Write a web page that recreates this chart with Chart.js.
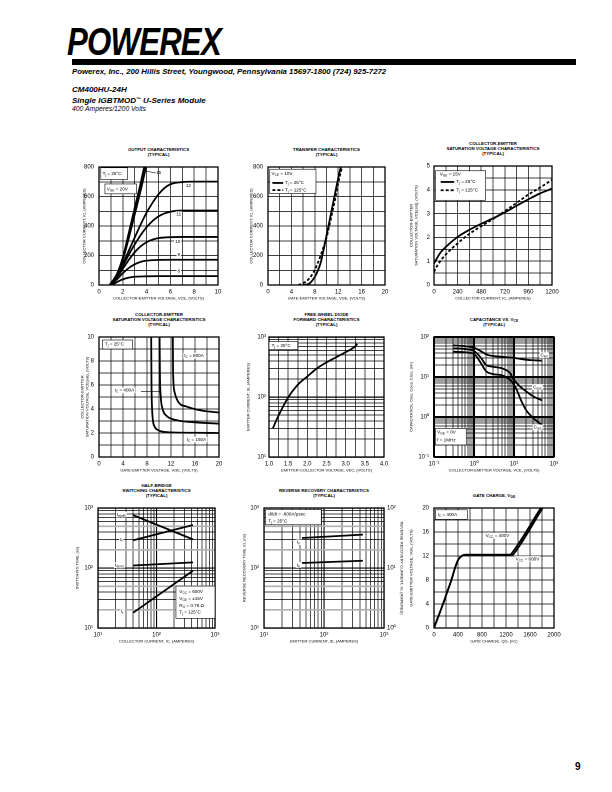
<!DOCTYPE html>
<html><head><meta charset="utf-8">
<script src="https://cdn.jsdelivr.net/npm/chart.js@4.4.1/dist/chart.umd.min.js"></script>
<style>
html,body{margin:0;padding:0;background:#fff}
body{width:612px;height:792px;position:relative;overflow:hidden;font-family:"Liberation Sans",Arial,Helvetica,sans-serif;color:#000}
#logo{position:absolute;left:67px;top:22px;font-weight:900;font-style:italic;font-size:39px;line-height:39px;transform:scaleX(0.8);transform-origin:0 0;letter-spacing:-1px;white-space:nowrap}
#bar{position:absolute;left:72px;top:59px;width:504px;height:6px;background:#000}
.hd{position:absolute;left:72px;white-space:nowrap;font-style:italic}
.ct{position:absolute;text-align:center;font-weight:bold;font-size:4.4px;line-height:5.2px;white-space:nowrap}
.ct sub{font-size:3.4px;vertical-align:-1px;line-height:0}
canvas{position:absolute}
#pg{position:absolute;left:575px;top:762px;font-weight:bold;font-size:10px;line-height:10px}
</style></head><body>
<div id="logo">POWEREX</div>
<div id="bar"></div>
<div class="hd" style="top:67.8px;font-weight:bold;font-size:7.8px;line-height:7.8px">Powerex, Inc., 200 Hillis Street, Youngwood, Pennsylvania 15697-1800 (724) 925-7272</div>
<div class="hd" style="top:86.2px;font-weight:bold;font-size:8px;line-height:8px">CM400HU-24H</div>
<div class="hd" style="top:96.2px;font-weight:bold;font-size:8px;line-height:8px">Single IGBTMOD<span style="font-size:4.8px;vertical-align:2px">™</span> U-Series Module</div>
<div class="hd" style="top:105.8px;font-size:6.8px;line-height:6.8px">400 Amperes/1200 Volts</div>
<div id="pg">9</div>
<script>
// ================= DATA =================
// 1. Output characteristics: [VCE (V), IC (A)] for each VGE
const vge8  = [[0.9,0],[1.2,6],[1.5,20],[2,38],[2.5,50],[3,56],[4,59],[5,60],[10,60]];
const vge9  = [[0.9,0],[1.5,38],[2,80],[2.5,115],[3,140],[3.5,157],[4,165],[5,170],[6,171],[10,171]];
const vge10 = [[0.9,0],[1.5,48],[2,110],[2.5,170],[3,222],[3.5,262],[4,290],[4.5,308],[5,318],[6,324],[7,326],[10,326]];
const vge11 = [[0.9,0],[1.5,55],[2,130],[2.5,205],[3,275],[3.5,338],[4,392],[4.5,434],[5,465],[5.5,485],[6,497],[7,505],[10,505]];
const vge12 = [[0.9,0],[1.5,60],[2,142],[2.5,232],[3,322],[3.5,410],[4,490],[4.5,558],[5,615],[5.5,657],[6,683],[7,698],[8,701],[10,701]];
const vge15 = [[0.9,0],[1.5,68],[2,170],[2.5,318],[3,478],[3.5,640],[3.95,800]];
const vge20 = [[0.9,0],[1.5,74],[2,186],[2.5,352],[3,522],[3.5,690],[3.8,800]];
// 2. Transfer characteristics: [VGE (V), IC (A)]
const tr25  = [[6,0],[7,8],[8,55],[8.5,95],[9,150],[9.5,238],[10,335],[10.5,432],[11,530],[11.5,628],[12,725],[12.45,800]];
const tr125 = [[5.2,0],[6,12],[7,42],[8,102],[9,200],[9.5,258],[10,320],[10.5,405],[11,495],[11.5,588],[12,690],[12.65,800]];
// 3. VCE(sat) vs IC: [IC (A), VCE(sat) (V)]
const sat25  = [[0,0.9],[20,1.05],[60,1.33],[120,1.6],[240,2.02],[360,2.32],[480,2.57],[600,2.8],[720,3.05],[840,3.33],[960,3.6],[1080,3.85],[1200,4.05]];
const sat125 = [[0,0.55],[20,0.72],[60,0.98],[120,1.28],[240,1.75],[360,2.15],[480,2.47],[600,2.77],[720,3.1],[840,3.45],[960,3.8],[1080,4.1],[1200,4.42]];
// 4. VCE(sat) vs VGE: [VGE (V), VCE(sat) (V)]
const ic160 = [[8.7,10],[8.75,6],[8.85,4],[9.0,3.0],[9.3,2.5],[9.8,2.25],[10.5,2.12],[12,2.05],[16,2.02],[20,2.0]];
const ic400 = [[10.1,10],[10.15,7],[10.3,5],[10.6,4.0],[11.2,3.45],[12,3.2],[13.4,3.02],[15.7,2.9],[20,2.78]];
const ic800 = [[12.3,10],[12.35,7],[12.6,5.4],[13.2,4.6],[14.6,4.2],[16.8,3.9],[20,3.7]];
// 5. Free-wheel diode: [VEC (V), IE (A)]
const diodeFwd = [[1.1,30],[1.2,42],[1.3,57],[1.5,98],[1.75,160],[2.0,220],[2.25,300],[2.5,378],[2.75,460],[3.0,560],[3.25,700],[3.3,770]];
// 6. Capacitance: [VCE (V), C (nF)]
const cies = [[0.3,62],[0.5,60],[0.8,57],[1,54],[1.5,44],[2,37],[3,33.5],[5,32],[10,30],[20,27],[50,25.5]];
const coes = [[0.3,52],[0.5,51],[0.8,48],[1,45],[1.5,30],[2,20],[3,18],[5,16.5],[8,12.5],[10,8.5],[15,5.5],[20,4.4],[30,3.3],[50,2.6]];
const cres = [[0.3,43],[0.5,42],[0.8,40],[1,38],[1.5,22],[2,14],[3,11.8],[5,11],[8,8.5],[10,6.4],[12,4.5],[15,2.6],[20,1.5],[30,0.95],[50,0.63]];
// 7. Switching times: [IC (A), t (ns)]
const tdoff = [[40,760],[420,300]];
const tfall = [[40,290],[420,520]];
const tdon  = [[40,110],[420,124]];
const trise = [[40,18],[420,90]];
// 8. Reverse recovery: [IE (A), trr (ns)] and [IE (A), Irr (A)]
const trrNs = [[43,121],[445,132]];
const irrA  = [[43,31.6],[445,36]];
// 9. Gate charge: [QG (nC), VGE (V)]
const qg400 = [[0,0],[75,2],[150,4],[220,6],[290,8],[350,10],[400,11.3],[450,11.9],[520,12.2],[1270,12.2],[1300,12.5],[1780,20]];
const qg600 = [[0,0],[75,2],[150,4],[220,6],[290,8],[350,10],[400,11.3],[450,11.9],[520,12.2],[1310,12.2],[1340,12.5],[1810,20]];

// tick definitions
const MANTISSAS = [1,2,3,4,5,6,7,8,9];

// ================= HELPERS =================
Chart.defaults.font.family = "'Liberation Sans', Arial, Helvetica, sans-serif";
Chart.defaults.color = '#000';
const FAM = Chart.defaults.font.family;
const SUP = {'-':'⁻','0':'⁰','1':'¹','2':'²','3':'³'};
const isPow10 = v => Math.abs(Math.log10(v) - Math.round(Math.log10(v))) < 1e-9;
const pow10Label = v => '10' + String(Math.round(Math.log10(v))).split('').map(c => SUP[c]).join('');
function logValues(min, max){
  const out = [];
  for (let e = Math.round(Math.log10(min)); e <= Math.round(Math.log10(max)); e++)
    for (const m of MANTISSAS){ const v = +(m*Math.pow(10,e)).toPrecision(6); if (v >= min*0.999 && v <= max*1.001) out.push(v); }
  return out;
}
function linValues(min, max, step){
  const out = []; const n = Math.round((max-min)/step);
  for (let i = 0; i <= n; i++) out.push(+(min + i*step).toFixed(6));
  return out;
}
const P = a => a.map(([x,y]) => ({x, y}));
function ds(arr, extra){ return Object.assign({data: P(arr), borderColor:'#000', borderWidth:1.8, pointRadius:0, fill:false, cubicInterpolationMode:'monotone'}, extra||{}); }

function axis(o){
  const isLog = o.type === 'logarithmic';
  const horiz = o.pos === 'bottom';
  const a = {
    type: o.type || 'linear', position: o.pos, min: o.min, max: o.max,
    grid: {display: o.grid !== false, drawTicks:false, color: o.gridColor || '#000',
      lineWidth: o.gridWidth || (c => (c.tick && c.tick.major && isLog) ? (o.majorW || 1.1) : 0.7)},
    border: {display:false},
    ticks: {autoSkip:false, maxRotation:0, minRotation:0, padding: o.tpad != null ? o.tpad : (horiz ? 3 : 5),
      font:{size:6}, color:'#000',
      callback: v => {
        if (isLog) return isPow10(v) ? pow10Label(v) : '';
        const r = v / o.every;
        return Math.abs(r - Math.round(r)) < 1e-6 ? (o.dec ? v.toFixed(o.dec) : String(Math.round(v))) : '';
      }},
    title: {display: !!o.title, text: o.title, font:{size:4}, padding:0, color:'#000'},
    afterBuildTicks: s => {
      const vals = isLog ? logValues(o.min, o.max) : linValues(o.min, o.max, o.step);
      s.ticks = vals.map(v => ({value: v, major: isLog ? isPow10(v) : false}));
    },
    afterFit: s => {
      if (s.isHorizontal()) { s.height = o.fit; s.paddingLeft = 0; s.paddingRight = 0; }
      else { s.width = o.fit; s.paddingTop = 0; s.paddingBottom = 0; }
    }
  };
  return a;
}

function segsOf(t){
  return t.split(/(_\{[^}]*\})/).filter(Boolean).map(s => s.startsWith('_{') ? {t:s.slice(2,-1), sub:true} : {t:s, sub:false});
}
function drawRich(ctx, t, x, y, size, align, bg){
  const parts = segsOf(t); let w = 0;
  for (const p of parts){ ctx.font = (p.sub ? size*0.7 : size) + 'px ' + FAM; p.w = ctx.measureText(p.t).width; w += p.w; }
  let sx = align === 'right' ? x - w : align === 'center' ? x - w/2 : x;
  if (bg){ ctx.fillStyle = '#fff'; ctx.fillRect(sx - 1, y - size*0.62, w + 2, size*1.24); }
  ctx.fillStyle = '#000'; ctx.textBaseline = 'middle'; ctx.textAlign = 'left';
  for (const p of parts){ ctx.font = (p.sub ? size*0.7 : size) + 'px ' + FAM; ctx.fillText(p.t, sx, p.sub ? y + size*0.3 : y); sx += p.w; }
}
const framePlugin = {
  id:'frame',
  afterDatasetsDraw(chart){
    const {ctx, chartArea:a} = chart;
    ctx.save(); ctx.strokeStyle = '#000'; ctx.lineWidth = 1.3;
    ctx.strokeRect(a.left, a.top, a.right - a.left, a.bottom - a.top); ctx.restore();
  }
};
const notesPlugin = {
  id:'notes',
  afterDatasetsDraw(chart, args, opts){
    const ctx = chart.ctx; const xs = chart.scales.x;
    ctx.save();
    for (const it of (opts.items || [])){
      const ys = chart.scales[it.axis || 'y'];
      if (it.box){
        const [x1,y1,x2,y2] = it.box;
        const px1 = xs.getPixelForValue(x1), px2 = xs.getPixelForValue(x2), py1 = ys.getPixelForValue(y1), py2 = ys.getPixelForValue(y2);
        ctx.fillStyle = '#fff'; ctx.fillRect(px1, py1, px2-px1, py2-py1);
        ctx.strokeStyle = '#000'; ctx.lineWidth = 0.6; ctx.strokeRect(px1, py1, px2-px1, py2-py1);
      } else if (it.seg){
        const [x1,y1,x2,y2] = it.seg;
        ctx.beginPath(); ctx.strokeStyle = '#000'; ctx.lineWidth = it.w || 0.6; ctx.setLineDash(it.dash || []);
        ctx.moveTo(xs.getPixelForValue(x1), ys.getPixelForValue(y1)); ctx.lineTo(xs.getPixelForValue(x2), ys.getPixelForValue(y2)); ctx.stroke();
        ctx.setLineDash([]);
      } else {
        drawRich(ctx, it.t, xs.getPixelForValue(it.x), ys.getPixelForValue(it.y), it.size || 4.6, it.align || 'left', it.bg);
      }
    }
    ctx.restore();
  }
};

function makeChart(g, datasets, scales, notes, titleHtml){
  const W = (g.R - g.L) + g.YW + g.PR + (g.YRW || 0);
  const H = (g.B - g.T) + g.PT + g.XH;
  const cv = document.createElement('canvas');
  cv.width = W; cv.height = H;
  cv.style.left = (g.L - g.YW) + 'px'; cv.style.top = (g.T - g.PT) + 'px';
  cv.style.width = W + 'px'; cv.style.height = H + 'px';
  document.body.appendChild(cv);
  const tl = document.createElement('div');
  tl.className = 'ct'; tl.innerHTML = titleHtml.join('<br>');
  tl.style.left = (g.L - 40) + 'px'; tl.style.width = (g.R - g.L + 80) + 'px';
  tl.style.top = (g.T - 9.5 - titleHtml.length*5.2) + 'px';
  document.body.appendChild(tl);
  new Chart(cv, {
    type:'line',
    data:{datasets},
    options:{
      responsive:false, animation:false, devicePixelRatio:2,
      layout:{padding:{left:0, top:g.PT, right:g.PR, bottom:0}},
      plugins:{legend:{display:false}, tooltip:{enabled:false}, notes:{items:notes}},
      scales
    },
    plugins:[framePlugin, notesPlugin]
  });
}
const G = (L,T,R,B,YW,extra) => Object.assign({L,T,R,B,YW,PT:6,PR:10,XH:16}, extra||{});

// ================= CHART 1: Output characteristics =================
makeChart(G(99,167,218,285,17),
  [ds(vge8),ds(vge9),ds(vge10),ds(vge11),ds(vge12),ds(vge15),ds(vge20)],
  { x: axis({pos:'bottom', min:0, max:10, step:1, every:2, fit:16, title:'COLLECTOR-EMITTER VOLTAGE, VCE, (VOLTS)'}),
    y: axis({pos:'left', min:0, max:800, step:100, every:200, fit:17, title:'COLLECTOR CURRENT, IC, (AMPERES)'}) },
  [ {box:[0.15,795,2.4,715]}, {t:'T_{j} = 25°C', x:0.3, y:755},
    {box:[0.5,685,3.15,618]}, {t:'V_{GE} = 20V', x:0.65, y:650},
    {seg:[3.95,772,4.75,760]}, {t:'15', x:4.8, y:760},
    {t:'12', x:7.3, y:672, bg:true}, {t:'11', x:6.5, y:480, bg:true},
    {t:'10', x:6.4, y:295, bg:true}, {t:'9', x:6.6, y:205, bg:true}, {t:'8', x:6.6, y:95, bg:true} ],
  ['OUTPUT CHARACTERISTICS','(TYPICAL)']);

// ================= CHART 2: Transfer characteristics =================
makeChart(G(268,167,385,285,19),
  [ds(tr25), ds(tr125, {borderDash:[3,2]})],
  { x: axis({pos:'bottom', min:0, max:20, step:2, every:4, fit:16, title:'GATE-EMITTER VOLTAGE, VGE, (VOLTS)'}),
    y: axis({pos:'left', min:0, max:800, step:100, every:200, fit:19, title:'COLLECTOR CURRENT, IC, (AMPERES)'}) },
  [ {box:[0.3,785,8.2,620]}, {t:'V_{CE} = 10V', x:0.6, y:755},
    {seg:[0.75,692,2.6,692], w:1.8}, {t:'T_{j} = 25°C', x:2.9, y:692},
    {seg:[0.75,643,2.6,643], w:1.8, dash:[3,2]}, {t:'T_{j} = 125°C', x:2.9, y:643} ],
  ['TRANSFER CHARACTERISTICS','(TYPICAL)']);

// ================= CHART 3: VCE(sat) vs IC =================
makeChart(G(434,166,552,285,25),
  [ds(sat25), ds(sat125, {borderDash:[3,2]})],
  { x: axis({pos:'bottom', min:0, max:1200, step:120, every:240, fit:16, title:'COLLECTOR-CURRENT, IC, (AMPERES)'}),
    y: axis({pos:'left', min:0, max:5, step:0.5, every:1, fit:25, tpad:4, title:['COLLECTOR-EMITTER','SATURATION VOLTAGE, VCE(sat), (VOLTS)']}) },
  [ {box:[14,4.8,525,3.56]}, {t:'V_{GE} = 15V', x:58, y:4.66},
    {seg:[68,4.33,205,4.33], w:1.8}, {t:'T_{j} = 25°C', x:228, y:4.33},
    {seg:[68,3.98,205,3.98], w:1.8, dash:[3,2]}, {t:'T_{j} = 125°C', x:228, y:3.98} ],
  ['COLLECTOR-EMITTER','SATURATION VOLTAGE CHARACTERISTICS','(TYPICAL)']);

// ================= CHART 4: VCE(sat) vs VGE =================
makeChart(G(99,337,219,457,19),
  [ds(ic160), ds(ic400), ds(ic800)],
  { x: axis({pos:'bottom', min:0, max:20, step:2, every:4, fit:16, title:'GATE-EMITTER VOLTAGE, VGE, (VOLTS)'}),
    y: axis({pos:'left', min:0, max:10, step:1, every:2, fit:19, title:['COLLECTOR-EMITTER','SATURATION VOLTAGE, VCE(sat), (VOLTS)']}) },
  [ {box:[0.55,9.75,5.6,9.0]}, {t:'T_{j} = 25°C', x:1.0, y:9.38},
    {t:'I_{C} = 800A', x:14.2, y:8.45, bg:true},
    {seg:[7.0,5.47,10.15,5.47]}, {t:'I_{C} = 400A', x:2.6, y:5.55, bg:true},
    {t:'I_{C} = 160A', x:14.6, y:1.45, bg:true} ],
  ['COLLECTOR-EMITTER','SATURATION VOLTAGE CHARACTERISTICS','(TYPICAL)']);

// ================= CHART 5: Free-wheel diode =================
makeChart(G(269,337,384,457,23),
  [ds(diodeFwd)],
  { x: axis({pos:'bottom', min:1, max:4, step:0.25, every:0.5, dec:1, fit:16, title:'EMITTER-COLLECTOR VOLTAGE, VEC, (VOLTS)'}),
    y: axis({type:'logarithmic', pos:'left', min:10, max:1000, fit:23, tpad:3, majorW:1.2, title:'EMITTER CURRENT, IE, (AMPERES)'}) },
  [ {box:[1.0,840,1.75,615]}, {t:'T_{j} = 25°C', x:1.07, y:720} ],
  ['FREE-WHEEL DIODE','FORWARD CHARACTERISTICS','(TYPICAL)']);

// ================= CHART 6: Capacitance =================
makeChart(G(434,337,554,457,25),
  [ds(cies), ds(coes), ds(cres)],
  { x: axis({type:'logarithmic', pos:'bottom', min:0.1, max:100, fit:16, majorW:2, title:'COLLECTOR-EMITTER VOLTAGE, VCE, (VOLTS)'}),
    y: axis({type:'logarithmic', pos:'left', min:0.1, max:100, fit:25, majorW:2, title:'CAPACITANCE, Cies, Coes, Cres, (nF)'}) },
  [ {t:'C_{ies}', x:46, y:35, bg:true}, {t:'C_{oes}', x:30, y:5.6, bg:true}, {t:'C_{res}', x:31, y:0.55, bg:true},
    {box:[0.108,0.52,0.64,0.2]}, {t:'V_{GE} = 0V', x:0.12, y:0.42}, {t:'f = 1MHz', x:0.12, y:0.26} ],
  ['CAPACITANCE VS. V<sub>CE</sub>','(TYPICAL)']);

// ================= CHART 7: Switching characteristics =================
const gray25 = c => { const v = c.tick && c.tick.value; if (!v) return '#000'; const m = Math.round(v/Math.pow(10,Math.floor(Math.log10(v)+1e-9))); return (m===2||m===5) ? '#b0b0b0' : '#000'; };
const w25 = c => { const v = c.tick && c.tick.value; if (!v) return 0.7; const m = Math.round(v/Math.pow(10,Math.floor(Math.log10(v)+1e-9))); return (m===2||m===5) ? 1.6 : (m===1 ? 1.1 : 0.7); };
makeChart(G(98,508,215,628,23),
  [ds(tdoff,{cubicInterpolationMode:'default'}), ds(tfall,{cubicInterpolationMode:'default'}), ds(tdon,{cubicInterpolationMode:'default'}), ds(trise,{cubicInterpolationMode:'default'})],
  { x: axis({type:'logarithmic', pos:'bottom', min:10, max:1000, fit:16, title:'COLLECTOR CURRENT, IC, (AMPERES)'}),
    y: axis({type:'logarithmic', pos:'left', min:10, max:1000, fit:23, gridColor:gray25, gridWidth:w25, title:'SWITCHING TIME, (ns)'}) },
  [ {t:'t_{d(off)}', x:21, y:776, bg:true}, {t:'t_{f}', x:24, y:296, bg:true},
    {t:'t_{d(on)}', x:19.5, y:111, bg:true}, {t:'t_{r}', x:25, y:18.5, bg:true},
    {box:[215,50,1000,14.5]},
    {t:'V_{CC} = 600V', x:245, y:40}, {t:'V_{GE} = ±15V', x:245, y:30.5},
    {t:'R_{G} = 0.78 Ω', x:245, y:23.6}, {t:'T_{j} = 125°C', x:245, y:18.3} ],
  ['HALF-BRIDGE','SWITCHING CHARACTERISTICS','(TYPICAL)']);

// ================= CHART 8: Reverse recovery =================
makeChart(G(264,508,384,628,22,{PR:0, YRW:20}),
  [ds(trrNs,{cubicInterpolationMode:'default'}), ds(irrA,{cubicInterpolationMode:'default', yAxisID:'y2'})],
  { x: axis({type:'logarithmic', pos:'bottom', min:10, max:1000, fit:16, title:'EMITTER CURRENT, IE, (AMPERES)'}),
    y: axis({type:'logarithmic', pos:'left', min:10, max:1000, fit:22, gridColor:gray25, gridWidth:w25, title:'REVERSE RECOVERY TIME, trr, (ns)'}),
    y2: axis({type:'logarithmic', pos:'right', min:1, max:100, fit:20, tpad:3, grid:false, title:'REVERSE RECOVERY CURRENT, Irr, (AMPERES)'}) },
  [ {box:[10.6,940,90,525]}, {t:'di/dt = -800A/μsec', x:11.8, y:790}, {t:'T_{j} = 25°C', x:11.8, y:600},
    {t:'I_{rr}', x:40, y:268, align:'right', bg:true}, {t:'t_{rr}', x:40, y:112, align:'right', bg:true} ],
  ['REVERSE RECOVERY CHARACTERISTICS','(TYPICAL)']);

// ================= CHART 9: Gate charge =================
makeChart(G(434,508,554,628,25),
  [ds(qg400), ds(qg600)],
  { x: axis({pos:'bottom', min:0, max:2000, step:200, every:400, fit:16, title:'GATE CHARGE, QG, (nC)'}),
    y: axis({pos:'left', min:0, max:20, step:2, every:4, fit:25, title:'GATE-EMITTER VOLTAGE, VGE, (VOLTS)'}) },
  [ {box:[22,19.7,555,18.1]}, {t:'I_{C} = 400A', x:60, y:18.9},
    {t:'V_{CC} = 400V', x:860, y:15.4, bg:true}, {t:'V_{CC} = 600V', x:1360, y:11.5, bg:true} ],
  ['GATE CHARGE, V<sub>GE</sub>']);
</script>
</body></html>
